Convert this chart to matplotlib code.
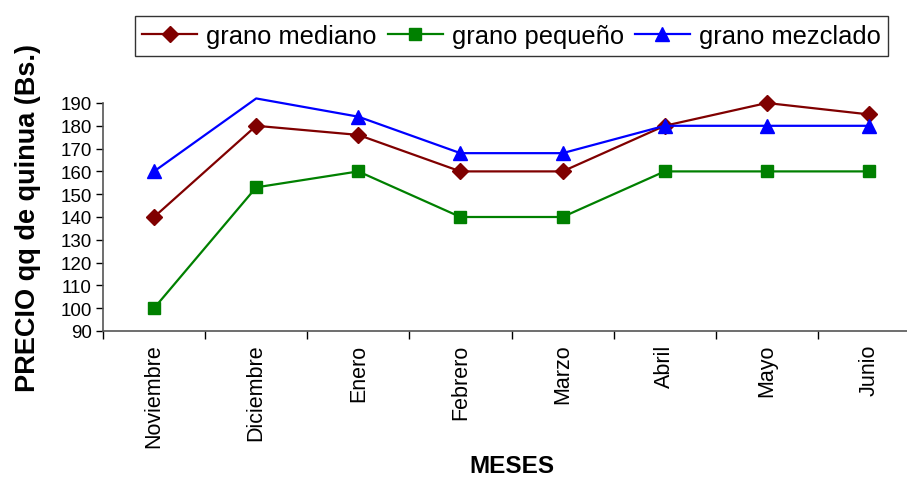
import matplotlib
matplotlib.use("Agg")
import matplotlib.pyplot as plt
import numpy as np

plt.rcParams['font.family'] = ['Liberation Sans', 'DejaVu Sans']

months = ["Noviembre", "Diciembre", "Enero", "Febrero", "Marzo", "Abril", "Mayo", "Junio"]
grano_mediano = [140, 180, 176, 160, 160, 180, 190, 185]
grano_pequeno = [100, 153, 160, 140, 140, 160, 160, 160]
grano_mezclado = [160, 192, 184, 168, 168, 180, 180, 180]
yticks = list(range(90, 191, 10))

fig = plt.figure(figsize=(9.07, 4.85), dpi=100)
ax = fig.add_axes([103/907, 153/485, 817/907, 228/485])

x = np.arange(len(months))
shown = [i for i, v in enumerate(grano_mezclado) if v <= 190]

ax.plot(x, grano_mediano, color='#800000', lw=1.6, marker='D', ms=8,
        label='grano mediano', clip_on=False, zorder=3)
ax.plot(x, grano_pequeno, color='#008000', lw=1.6, marker='s', ms=8,
        label='grano pequeño', clip_on=False, zorder=3)
ax.plot(x, grano_mezclado, color='#0000FF', lw=1.6, marker='^', ms=10,
        markevery=shown, label='grano mezclado', clip_on=False, zorder=3)

ax.set_xlim(-0.5, len(months) - 0.5)
ax.set_ylim(90, 190)
ax.set_yticks(yticks)
ax.tick_params(axis='y', labelsize=13.5, length=5, width=1, direction='out', pad=3)

ax.set_xticks(x)
ax.set_xticklabels(months, rotation=90, fontsize=15.5)
ax.tick_params(axis='x', which='major', length=0, pad=9)
ax.set_xticks(np.arange(len(months)) - 0.5, minor=True)
ax.tick_params(axis='x', which='minor', length=6, width=1, direction='out')

for s in ['top', 'right']:
    ax.spines[s].set_visible(False)
for s in ['left', 'bottom']:
    ax.spines[s].set_color('#555555')
    ax.spines[s].set_linewidth(1.2)

ax.set_ylabel('PRECIO qq de quinua (Bs.)', fontsize=19.5, fontweight='bold', labelpad=14)
ax.set_xlabel('MESES', fontsize=17.5, fontweight='bold', labelpad=5)

leg = fig.legend(loc='center', bbox_to_anchor=(511.5/907, 1 - 37/485), ncol=3,
                 fontsize=18.4, frameon=True, fancybox=False, edgecolor='black',
                 handlelength=2.15, handletextpad=0.35, columnspacing=0.43,
                 borderpad=0.3, borderaxespad=0)
leg.get_frame().set_linewidth(1.0)

fig.savefig('out.png', dpi=100)
